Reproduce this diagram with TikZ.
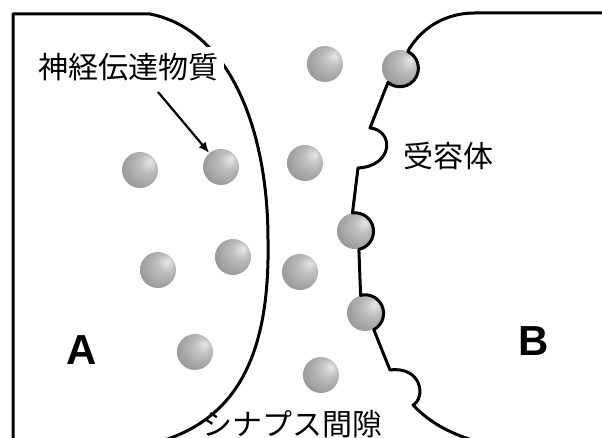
\documentclass[tikz,border=0pt]{standalone}
\usepackage{fontspec}
\setsansfont{Liberation Sans}
\newfontfamily\jp{Noto Sans CJK JP}
\usepackage{tikz}
\usetikzlibrary{arrows.meta}
\usepackage{xcolor}

\pgfdeclareradialshading{transmitter}{\pgfpoint{14bp}{12bp}}{%
  color(0bp)=(gray!18); color(12bp)=(gray!50); color(30bp)=(gray!78);
  color(44bp)=(gray!90); color(50bp)=(gray!92)}

\begin{document}
\begin{tikzpicture}[
  x=1pt,y=1pt,
  mol/.style={circle,minimum size=36pt,inner sep=0pt,shading=transmitter},
  membrane/.style={line width=3pt,line join=round},
  jlabel/.style={font=\jp\fontsize{30}{32}\selectfont,inner sep=2pt},
  cell/.style={font=\sffamily\bfseries\fontsize{42}{44}\selectfont},
  arr/.style={-{Latex[length=11pt,width=9pt]},line width=2.2pt}
]
\useasboundingbox (0,0) rectangle (602,438);

% transmitter molecules, cell A and the cleft
\node[mol] (b1) at (140,268) {};
\node[mol] (b2) at (221,271) {};
\node[mol] (b3) at (158,168) {};
\node[mol] (b4) at (233,181) {};
\node[mol] (b5) at (195,86) {};
\node[mol] (g1) at (325,374) {};
\node[mol] (g2) at (305,275) {};
\node[mol] (g3) at (300,166) {};
\node[mol] (g4) at (321,63) {};
% bound to receptors of cell B
\node[mol] (r1) at (400,370) {};
\node[mol] (r2) at (355,207) {};
\node[mol] (r3) at (365,125) {};

% membrane of cell A
\draw[membrane] (13,0) -- (13,424) -- (150,424)
  .. controls (230,408) and (268,308) .. (268,198)
  .. controls (270,88) and (240,23) .. (165,-2);

% membrane of cell B with receptor sites
\draw[membrane] (602,425) -- (475,425)
  .. controls (440,425) and (418,405) .. (r1.65)
  arc[start angle=65,end angle=-130,radius=18.5pt]
  -- (370,310)
  .. controls (394,308) and (394,272) .. (358,270)
  -- (r2.98)
  arc[start angle=98,end angle=-78,radius=18.5pt]
  -- (r3.104)
  arc[start angle=104,end angle=-62,radius=18.5pt]
  -- (390,68)
  .. controls (422,72) and (426,40) .. (413,33)
  .. controls (430,15) and (450,5) .. (472,-2);

% labels
\node[jlabel,fill=white,inner sep=6pt] (nt) at (128,371) {神経伝達物質};
\node[jlabel] (rec) at (448,282) {受容体};
\node[jlabel] (cleft) at (292,14) {シナプス間隙};
\node[cell] (cA) at (82,88) {A};
\node[cell] (cB) at (534,97) {B};

\coordinate (tail) at (158,346);
\draw[arr] (tail) -- (b2);
\end{tikzpicture}
\end{document}
